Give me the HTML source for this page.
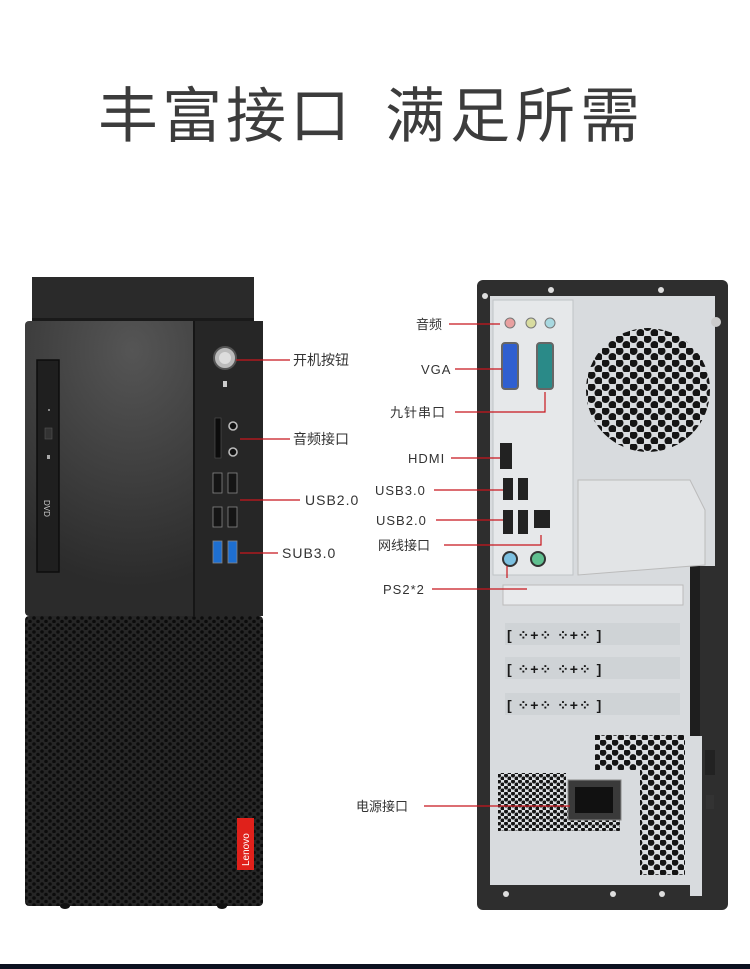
<!DOCTYPE html>
<html><head><meta charset="utf-8"><style>
html,body{margin:0;padding:0;background:#fff;}
svg{display:block}
text{font-family:"Liberation Sans","Noto Sans CJK SC",sans-serif;}
</style></head><body>
<svg width="750" height="969" viewBox="0 0 750 969" xmlns="http://www.w3.org/2000/svg">
<defs>
<pattern id="mesh" width="8" height="7" patternUnits="userSpaceOnUse">
<rect width="8" height="7" fill="#262626"/>
<circle cx="2" cy="2" r="1.8" fill="#0c0c0c"/><circle cx="6" cy="5.5" r="1.8" fill="#0c0c0c"/>
</pattern>
<pattern id="fan" width="14" height="12" patternUnits="userSpaceOnUse">
<rect width="14" height="12" fill="#d9dcdf"/>
<circle cx="3.5" cy="3" r="4" fill="#151515"/><circle cx="10.5" cy="9" r="4" fill="#151515"/>
</pattern>
<pattern id="psu" width="7" height="6" patternUnits="userSpaceOnUse">
<rect width="7" height="6" fill="#dcdfe2"/>
<circle cx="2" cy="1.5" r="2" fill="#151515"/><circle cx="5.5" cy="4.5" r="2" fill="#151515"/>
</pattern>
<pattern id="psu2" width="12" height="10" patternUnits="userSpaceOnUse">
<rect width="12" height="10" fill="#dcdfe2"/>
<circle cx="3" cy="2.5" r="3.4" fill="#151515"/><circle cx="9" cy="7.5" r="3.4" fill="#151515"/>
</pattern>
<radialGradient id="glow" cx="0.45" cy="0.1" r="0.8">
<stop offset="0" stop-color="#555"/><stop offset="1" stop-color="#2b2b2b"/>
</radialGradient>
</defs>

<text x="98" y="137" font-size="60" fill="#3c3c3c" letter-spacing="4">丰富接口</text>
<text x="385" y="137" font-size="60" fill="#3c3c3c" letter-spacing="5">满足所需</text>

<!-- LEFT TOWER -->
<rect x="32" y="277" width="222" height="45" fill="#2a2a2a"/>
<rect x="32" y="318" width="222" height="3" fill="#1a1a1a"/>
<rect x="25" y="321" width="238" height="295" rx="4" fill="url(#glow)"/>
<rect x="193" y="321" width="70" height="295" fill="#262626"/>
<line x1="194" y1="321" x2="194" y2="616" stroke="#111" stroke-width="1.5"/>
<rect x="37" y="360" width="22" height="212" fill="#1f1f1f" stroke="#0d0d0d" stroke-width="1.5"/>
<rect x="45" y="428" width="7" height="11" fill="#333" stroke="#555" stroke-width="0.6"/>
<circle cx="49" cy="410" r="1" fill="#aaa"/>
<rect x="47" y="455" width="3" height="4" fill="#aaa"/>
<text x="44" y="500" font-size="8" fill="#ccc" transform="rotate(90 44 500)">DVD</text>
<circle cx="225" cy="358" r="11" fill="#bbb" stroke="#555" stroke-width="2"/>
<circle cx="225" cy="358" r="6" fill="#ddd"/>
<rect x="223" y="381" width="4" height="6" fill="#ccc"/>
<rect x="215" y="418" width="6" height="40" fill="#0c0c0c" stroke="#555" stroke-width="0.6"/>
<circle cx="233" cy="426" r="4" fill="#111" stroke="#bbb" stroke-width="1.6"/>
<circle cx="233" cy="452" r="4" fill="#111" stroke="#bbb" stroke-width="1.6"/>
<g fill="#151515" stroke="#888" stroke-width="0.8">
<rect x="213" y="473" width="9" height="20"/><rect x="228" y="473" width="9" height="20"/>
<rect x="213" y="507" width="9" height="20"/><rect x="228" y="507" width="9" height="20"/>
</g>
<rect x="213" y="541" width="9" height="22" fill="#1e6fd0" stroke="#888" stroke-width="0.8"/>
<rect x="228" y="541" width="9" height="22" fill="#1e6fd0" stroke="#888" stroke-width="0.8"/>
<rect x="25" y="616" width="238" height="290" rx="4" fill="url(#mesh)"/>
<rect x="237" y="818" width="17" height="52" fill="#e0211b"/>
<text x="249" y="866" font-size="10" fill="#fff" transform="rotate(-90 249 866)">Lenovo</text>
<ellipse cx="65" cy="906" rx="5" ry="3" fill="#111"/><ellipse cx="222" cy="906" rx="5" ry="3" fill="#111"/>

<!-- left labels -->
<g stroke="#c8161d" stroke-width="1.2">
<line x1="236" y1="360" x2="290" y2="360"/>
<line x1="240" y1="439" x2="290" y2="439"/>
<line x1="240" y1="500" x2="300" y2="500"/>
<line x1="240" y1="553" x2="278" y2="553"/>
</g>
<g font-size="14" fill="#333">
<text x="293" y="365">开机按钮</text>
<text x="293" y="444">音频接口</text>
<text x="305" y="505" letter-spacing="1">USB2.0</text>
<text x="282" y="558" letter-spacing="1">SUB3.0</text>
</g>

<!-- RIGHT TOWER -->
<rect x="477" y="280" width="251" height="630" rx="6" fill="#2e2e2e"/>
<rect x="490" y="296" width="200" height="606" fill="#d8dbde"/>
<rect x="690" y="296" width="25" height="270" fill="#d8dbde"/>
<rect x="690" y="566" width="10" height="170" fill="#1e1e1e"/>
<rect x="690" y="736" width="12" height="160" fill="#d8dbde"/>
<rect x="493" y="300" width="80" height="275" fill="#e6e8ea" stroke="#bfc3c6"/>
<circle cx="648" cy="390" r="62" fill="url(#fan)"/>
<path d="M578 480 L690 480 L705 510 L705 565 L578 575 Z" fill="#e2e4e6" stroke="#bbb"/>
<!-- io -->
<circle cx="510" cy="323" r="5" fill="#e8a0a0" stroke="#777"/>
<circle cx="531" cy="323" r="5" fill="#d8dca0" stroke="#777"/>
<circle cx="550" cy="323" r="5" fill="#a8d8e0" stroke="#777"/>
<rect x="502" y="343" width="16" height="46" rx="3" fill="#2f5fd0" stroke="#666" stroke-width="2"/>
<rect x="537" y="343" width="16" height="46" rx="3" fill="#2a8a88" stroke="#666" stroke-width="2"/>
<rect x="500" y="443" width="12" height="26" fill="#222"/>
<g fill="#222"><rect x="503" y="478" width="10" height="22"/><rect x="518" y="478" width="10" height="22"/>
<rect x="503" y="510" width="10" height="24"/><rect x="518" y="510" width="10" height="24"/>
<rect x="534" y="510" width="16" height="18"/></g>
<circle cx="510" cy="559" r="7" fill="#7cc0e0" stroke="#333" stroke-width="2"/>
<circle cx="538" cy="559" r="7" fill="#60c090" stroke="#333" stroke-width="2"/>
<!-- slots -->
<rect x="503" y="585" width="180" height="20" fill="#e8eaec" stroke="#bbb"/>
<g fill="#1a1a1a" font-size="14">
<rect x="505" y="623" width="175" height="22" fill="#cfd3d6"/>
<rect x="505" y="657" width="175" height="22" fill="#cfd3d6"/>
<rect x="505" y="693" width="175" height="22" fill="#cfd3d6"/>
<text x="507" y="640" letter-spacing="1" font-weight="bold">[ ⁘+⁘  ⁘+⁘ ]</text>
<text x="507" y="674" letter-spacing="1" font-weight="bold">[ ⁘+⁘  ⁘+⁘ ]</text>
<text x="507" y="710" letter-spacing="1" font-weight="bold">[ ⁘+⁘  ⁘+⁘ ]</text>
</g>
<!-- psu -->
<rect x="498" y="773" width="68" height="58" fill="url(#psu)"/>
<rect x="566" y="808" width="54" height="23" fill="url(#psu)"/>
<path d="M595 735 L685 735 L685 875 L640 875 L640 770 L595 770 Z" fill="url(#psu2)"/>
<rect x="568" y="780" width="53" height="40" fill="#3a3a3a" stroke="#888"/>
<rect x="575" y="787" width="38" height="26" fill="#111"/>
<rect x="705" y="750" width="10" height="25" fill="#222"/>
<rect x="706" y="795" width="8" height="14" fill="#333"/>
<rect x="490" y="885" width="200" height="18" fill="#2e2e2e"/>
<circle cx="506" cy="894" r="3" fill="#ddd"/><circle cx="613" cy="894" r="3" fill="#ddd"/><circle cx="662" cy="894" r="3" fill="#ddd"/>
<circle cx="485" cy="296" r="3" fill="#ddd"/><circle cx="551" cy="290" r="3" fill="#ddd"/><circle cx="661" cy="290" r="3" fill="#ddd"/>
<circle cx="716" cy="322" r="5" fill="#ccc"/>

<!-- right labels -->
<g stroke="#c8161d" stroke-width="1.2" fill="none">
<line x1="449" y1="324" x2="500" y2="324"/>
<line x1="455" y1="369" x2="502" y2="369"/>
<polyline points="455,412 545,412 545,392"/>
<line x1="451" y1="458" x2="500" y2="458"/>
<line x1="434" y1="490" x2="503" y2="490"/>
<line x1="436" y1="520" x2="503" y2="520"/>
<polyline points="444,545 541,545 541,535"/>
<polyline points="432,589 527,589"/>
<line x1="507" y1="566" x2="507" y2="578"/>
<line x1="424" y1="806" x2="570" y2="806"/>
</g>
<g font-size="13" fill="#333">
<text x="416" y="329">音频</text>
<text x="421" y="374" letter-spacing="1">VGA</text>
<text x="390" y="417" letter-spacing="1">九针串口</text>
<text x="408" y="463" letter-spacing="1">HDMI</text>
<text x="375" y="495" letter-spacing="1">USB3.0</text>
<text x="376" y="525" letter-spacing="1">USB2.0</text>
<text x="378" y="550">网线接口</text>
<text x="383" y="594" letter-spacing="1">PS2*2</text>
<text x="356" y="811">电源接口</text>
</g>

<rect x="0" y="964" width="750" height="5" fill="#0c1120"/>
</svg>
</body></html>
